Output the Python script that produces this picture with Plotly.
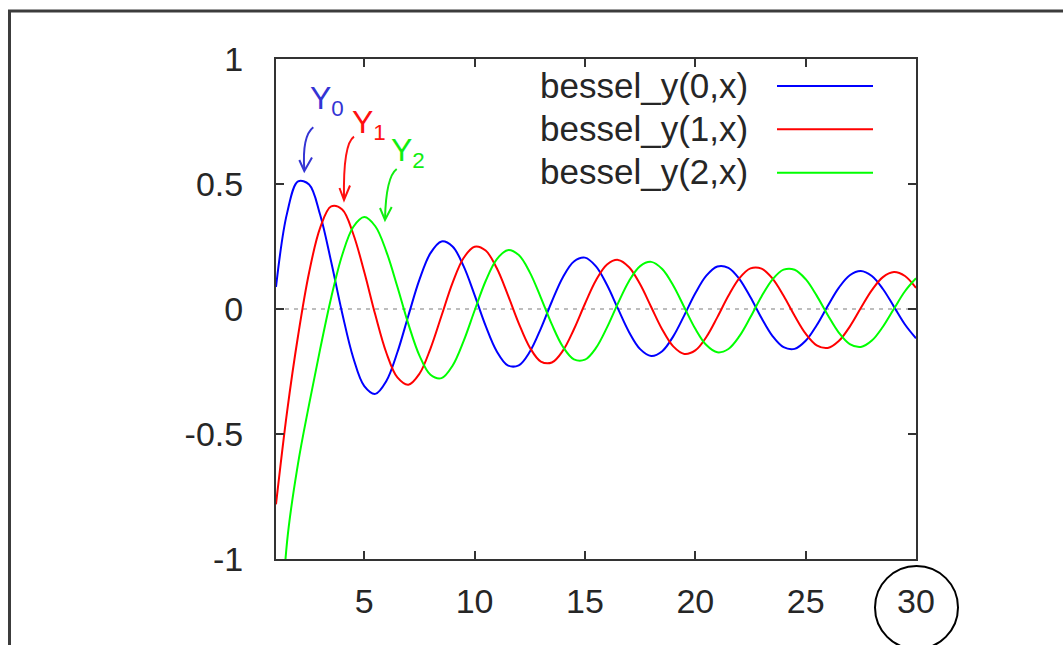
import plotly.graph_objects as go

# ---------------- data ----------------
x_vals = [1.0, 1.5, 2.0, 2.5, 3.0, 3.5, 4.0, 4.5, 5.0, 5.5, 6.0, 6.5, 7.0, 7.5, 8.0,
          8.5, 9.0, 9.5, 10.0, 10.5, 11.0, 11.5, 12.0, 12.5, 13.0, 13.5, 14.0, 14.5,
          15.0, 15.5, 16.0, 16.5, 17.0, 17.5, 18.0, 18.5, 19.0, 19.5, 20.0, 20.5,
          21.0, 21.5, 22.0, 22.5, 23.0, 23.5, 24.0, 24.5, 25.0, 25.5, 26.0, 26.5,
          27.0, 27.5, 28.0, 28.5, 29.0, 29.5, 30.0]

bessel_y0 = [0.0883, 0.3825, 0.5104, 0.4981, 0.3769, 0.1890, -0.0169, -0.1947, -0.3085,
             -0.3395, -0.2882, -0.1732, -0.0259, 0.1173, 0.2235, 0.2702, 0.2499, 0.1712,
             0.0557, -0.0675, -0.1688, -0.2252, -0.2252, -0.1712, -0.0782, 0.0301, 0.1272,
             0.1903, 0.2055, 0.1706, 0.0958, 0.0002, -0.0926, -0.1604, -0.1876, -0.1687,
             -0.1095, -0.0255, 0.0626, 0.1334, 0.1702, 0.1649, 0.1199, 0.0468, -0.0360,
             -0.1083, -0.1528, -0.1594, -0.1272, -0.0649, 0.0120, 0.0846, 0.1352, 0.1521,
             0.1318, 0.0799, 0.0095, -0.0620, -0.1173]

bessel_y1 = [-0.7812, -0.4123, -0.1070, 0.1459, 0.3247, 0.4102, 0.3979, 0.3001, 0.1479,
             -0.0234, -0.1750, -0.2738, -0.3027, -0.2591, -0.1581, -0.0271, 0.1043, 0.2041,
             0.2490, 0.2337, 0.1637, 0.0579, -0.0571, -0.1538, -0.2101, -0.2140, -0.1666,
             -0.0810, 0.0211, 0.1148, 0.1780, 0.1965, 0.1672, 0.0986, 0.0082, -0.0817,
             -0.1496, -0.1796, -0.1655, -0.1119, -0.0325, 0.0528, 0.1234, 0.1626, 0.1617,
             0.1217, 0.0531, -0.0270, -0.0988, -0.1454, -0.1558, -0.1283, -0.0703, 0.0038,
             0.0755, 0.1277, 0.1480, 0.1321, 0.0844]

bessel_y2 = [-1.6507, -0.9322, -0.6174, -0.3813, -0.1604, 0.0454, 0.2159, 0.3281, 0.3677,
             0.3310, 0.2299, 0.0890, -0.0605, -0.1864, -0.2630, -0.2766, -0.2268, -0.1283,
             -0.0059, 0.1120, 0.1986, 0.2353, 0.2157, 0.1466, 0.0459, -0.0618, -0.1510,
             -0.2015, -0.2027, -0.1558, -0.0736, 0.0236, 0.1123, 0.1717, 0.1885, 0.1598,
             0.0938, 0.0070, -0.0792, -0.1443, -0.1733, -0.1600, -0.1087, -0.0324, 0.0500,
             0.1186, 0.1573, 0.1572, 0.1193, 0.0535, -0.0240, -0.0942, -0.1404, -0.1519,
             -0.1264, -0.0709, 0.0007, 0.0710, 0.1229]

series_names = ["bessel_y(0,x)", "bessel_y(1,x)", "bessel_y(2,x)"]
series_colors = ["#0000ff", "#ff0000", "#00ff00"]
series_values = [bessel_y0, bessel_y1, bessel_y2]

x_tick_vals = [5, 10, 15, 20, 25, 30]
x_tick_text = ["5", "10", "15", "20", "25", "30"]
y_tick_vals = [-1, -0.5, 0, 0.5, 1]
y_tick_text = ["-1", "-0.5", "0", "0.5", "1"]

hand_labels = ["Y<sub>0</sub>", "Y<sub>1</sub>", "Y<sub>2</sub>"]
hand_colors = ["#3434d4", "#ff1010", "#10ee10"]

# ---------------- layout geometry ----------------
W, H = 1063, 645
L, R, T, B = 276, 147, 59, 86
PW = W - L - R
PH = H - T - B


def px(xp):
    return (xp - L) / PW


def py(yp):
    return (H - B - yp) / PH


def path(points):
    s = ""
    for p in points:
        cmd = p[0]
        coords = " ".join(f"{px(a):.5f},{py(b):.5f}" for a, b in p[1:])
        s += f"{cmd}{coords} "
    return s.strip()


FONT = "Liberation Sans, Arial, sans-serif"
TXT = "#262626"

fig = go.Figure()
for name, vals, col in zip(series_names, series_values, series_colors):
    fig.add_trace(go.Scatter(
        x=x_vals, y=vals, mode="lines", name=name,
        line=dict(color=col, width=2, shape="spline", smoothing=1.0),
        showlegend=False, hoverinfo="skip"))

shapes = []
annotations = []

# zero axis (dashed grey)
shapes.append(dict(type="line", xref="paper", yref="y", x0=0, x1=1, y0=0, y1=0,
                   line=dict(color="#a8a8a8", width=1.5, dash="4px,5px"), layer="below"))

# manual gnuplot-style legend (text right-aligned, sample line on the right)
row_y = [85, 128.3, 171.7]
for name, col, ry in zip(series_names, series_colors, row_y):
    annotations.append(dict(xref="paper", yref="paper", x=px(750), y=py(ry),
                            xanchor="right", yanchor="middle", text=name, showarrow=False,
                            font=dict(family=FONT, size=35, color=TXT)))
    shapes.append(dict(type="line", xref="paper", yref="paper",
                       x0=px(777), x1=px(873), y0=py(ry + 1), y1=py(ry + 1),
                       line=dict(color=col, width=2)))

# hand-drawn labels with curved arrows
label_pos = [(327, 101), (369, 124), (408, 153)]
shafts = [
    [("M", (313.3, 127.3)), ("Q", (302, 136), (304.3, 170))],
    [("M", (354, 136.7)), ("Q", (343, 144), (344, 199))],
    [("M", (396.7, 169)), ("Q", (386, 177), (385, 219))],
]
heads = [
    [("M", (299.3, 160)), ("L", (304.3, 171)), ("L", (312, 157.5))],
    [("M", (339.5, 188)), ("L", (344, 200)), ("L", (350, 185.5))],
    [("M", (380, 208)), ("L", (385, 220)), ("L", (391.7, 207))],
]
for lab, col, (lx, ly), sh, hd in zip(hand_labels, hand_colors, label_pos, shafts, heads):
    annotations.append(dict(xref="paper", yref="paper", x=px(lx), y=py(ly),
                            xanchor="center", yanchor="middle", text=lab, showarrow=False,
                            font=dict(family="Liberation Sans Narrow, Liberation Sans, sans-serif",
                                      size=32, color=col)))
    shapes.append(dict(type="path", xref="paper", yref="paper", path=path(sh),
                       line=dict(color=col, width=2)))
    shapes.append(dict(type="path", xref="paper", yref="paper", path=path(hd),
                       line=dict(color=col, width=2)))

# outer frame (top + left edges of the screenshot window)
shapes.append(dict(type="path", xref="paper", yref="paper",
                   path=path([("M", (9.5, 700)), ("L", (9.5, 11)), ("L", (1100, 11))]),
                   line=dict(color="#3c3c3c", width=3)))

# circle drawn round the "30" tick label
shapes.append(dict(type="circle", xref="paper", yref="paper",
                   x0=px(875), x1=px(958), y0=py(649), y1=py(566),
                   line=dict(color="#000000", width=2)))

axis_common = dict(showgrid=False, zeroline=False, showline=True, linecolor="#333333",
                   linewidth=2, mirror="ticks", ticks="inside", ticklen=8, tickwidth=2,
                   tickcolor="#333333",
                   tickfont=dict(family=FONT, size=34, color=TXT))

fig.update_layout(
    width=W, height=H,
    margin=dict(l=L, r=R, t=T, b=B, pad=0),
    paper_bgcolor="white", plot_bgcolor="white",
    showlegend=False,
    xaxis=dict(range=[1, 30], tickmode="array", tickvals=x_tick_vals, ticktext=x_tick_text,
               ticklabelstandoff=11, **axis_common),
    yaxis=dict(range=[-1, 1], tickmode="array", tickvals=y_tick_vals, ticktext=y_tick_text,
               ticklabelstandoff=24, **axis_common),
    shapes=shapes,
    annotations=annotations,
)

fig.write_html("out.html", config={"displayModeBar": False},
               post_script="document.body.style.margin='0';document.body.style.padding='0';")
